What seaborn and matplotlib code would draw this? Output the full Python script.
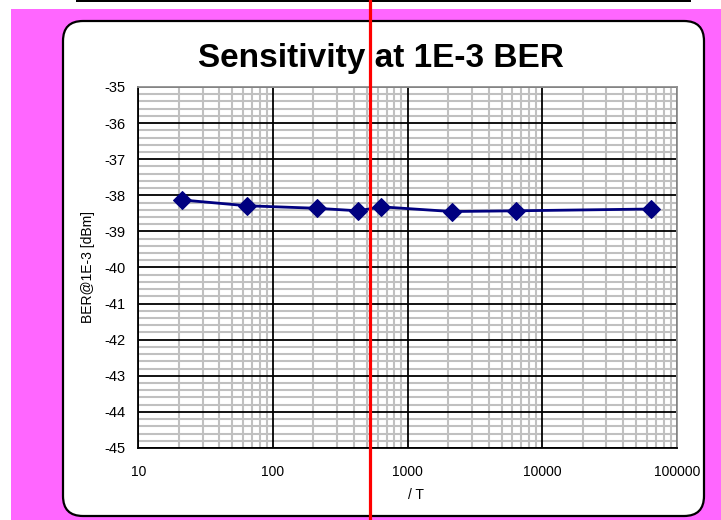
import numpy as np
import pandas as pd
import matplotlib
matplotlib.use("Agg")
import matplotlib.pyplot as plt
import seaborn as sns
from matplotlib.patches import FancyBboxPatch, Rectangle
from matplotlib.lines import Line2D
from matplotlib.ticker import LogLocator, MultipleLocator, NullFormatter

# data
t_values = [21.3, 64, 213, 430, 640, 2130, 6400, 64000]
sensitivity = [-38.13, -38.29, -38.36, -38.43, -38.32, -38.45, -38.43, -38.38]

x_ticks = [10, 100, 1000, 10000, 100000]
x_labels = ['10', '100', '1000', '10000', '100000']
y_ticks = [-45, -44, -43, -42, -41, -40, -39, -38, -37, -36, -35]
y_labels = ['-45', '-44', '-43', '-42', '-41', '-40', '-39', '-38', '-37', '-36', '-35']

df = pd.DataFrame({'T': t_values, 'sens': sensitivity})

sns.set_theme(style="white")
plt.rcParams['font.family'] = ['Liberation Sans', 'DejaVu Sans']
plt.rcParams['text.color'] = 'black'
plt.rcParams['axes.labelcolor'] = 'black'
plt.rcParams['xtick.color'] = 'black'
plt.rcParams['ytick.color'] = 'black'

fig = plt.figure(figsize=(7.21, 5.2), dpi=100)
fig.patch.set_facecolor('white')
inch = fig.dpi_scale_trans

# background frame pieces (inches from bottom-left)
fig.add_artist(Rectangle((0.11, 0), 7.10, 5.11, transform=inch,
                         facecolor='#FF66FF', edgecolor='none', zorder=-3))
fig.add_artist(Rectangle((0.76, 5.18), 6.15, 0.02, transform=inch,
                         facecolor='black', edgecolor='none', zorder=-3))
fig.add_artist(FancyBboxPatch((0.63, 0.04), 6.41, 4.95, transform=inch,
                              boxstyle='round,pad=0,rounding_size=0.2',
                              facecolor='white', edgecolor='black', lw=1.6, zorder=-2))

ax = fig.add_axes([0.1918, 0.1385, 0.7468, 0.6942])
ax.set_facecolor('white')

ax.set_xscale('log')
ax.set_xlim(10, 100000)
ax.set_ylim(-45, -35)
ax.set_xticks(x_ticks, x_labels)
ax.set_yticks(y_ticks, y_labels)
ax.xaxis.set_minor_locator(LogLocator(base=10, subs=np.arange(2, 10)))
ax.xaxis.set_minor_formatter(NullFormatter())
ax.yaxis.set_minor_locator(MultipleLocator(0.2))

# minor grid from the axis, major grid drawn on top of it
ax.set_axisbelow(True)
ax.grid(which='minor', color='#C0C0C0', lw=1.5)
ax.grid(which='major', visible=False)
for v in x_ticks:
    ax.axvline(v, color='black', lw=1.3, zorder=1)
for v in y_ticks:
    ax.axhline(v, color='black', lw=1.3, zorder=1)

sns.lineplot(data=df, x='T', y='sens', ax=ax, color='#000080', marker='D',
             markersize=9, markeredgecolor='#000080', linewidth=2, zorder=5)
ax.set_xlim(10, 100000)
ax.set_ylim(-45, -35)

ax.tick_params(which='both', length=0)
ax.tick_params(axis='x', labelsize=10, pad=12)
ax.tick_params(axis='y', labelsize=10.5, pad=9)

for s in ['left', 'bottom']:
    ax.spines[s].set_color('black')
    ax.spines[s].set_linewidth(1.3)
for s in ['top', 'right']:
    ax.spines[s].set_color('#909090')
    ax.spines[s].set_linewidth(1.3)

ax.set_xlabel('/ T', fontsize=10)
ax.set_ylabel('BER@1E-3 [dBm]', fontsize=10)
ax.xaxis.set_label_coords(0.516, -0.111)
ax.yaxis.set_label_coords(-0.081, 0.5)

fig.text(381 / 721, 1 - 59 / 520, 'Sensitivity at 1E-3 BER', ha='center', va='center',
         fontsize=24, fontweight='bold')

# red marker line across the whole picture
fig.add_artist(Line2D([3.70, 3.70], [0, 5.2], transform=inch, color='red', lw=2.3, zorder=10))

fig.savefig('out.png', dpi=100, facecolor=fig.get_facecolor())
